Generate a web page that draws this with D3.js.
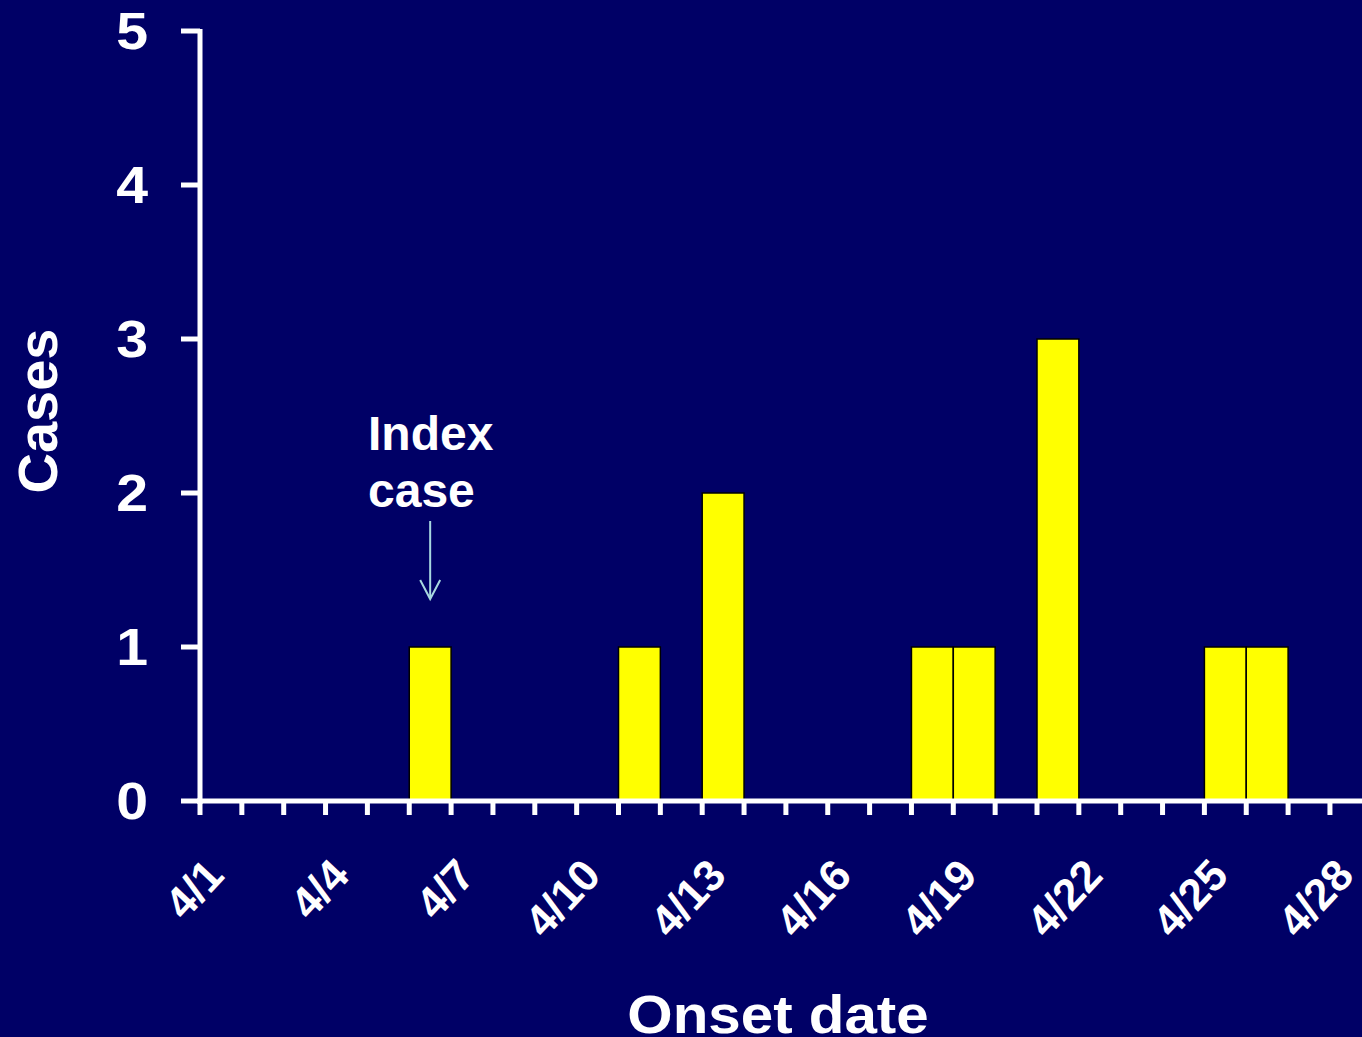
<!DOCTYPE html>
<html>
<head>
<meta charset="utf-8">
<script src="https://cdn.jsdelivr.net/npm/d3@7"></script>
<style>
  html, body { margin: 0; padding: 0; background: #000066; }
  svg { display: block; font-family: "Liberation Sans", Arial, sans-serif; font-weight: bold; }
</style>
</head>
<body>
<script>
// onset days in April, 1..28
const days = d3.range(1, 29)
const cases = [0, 0, 0, 0, 0, 1, 0, 0, 0, 0, 1, 0, 2, 0, 0, 0, 0, 1, 1, 0, 3, 0, 0, 0, 1, 1, 0, 0]
const yTicks = [0, 1, 2, 3, 4, 5]
const labelDays = [1, 4, 7, 10, 13, 16, 19, 22, 25, 28]

const width = 1362, height = 1037
const svg = d3.select('body').append('svg')
    .attr('width', width)
    .attr('height', height)

svg.append('rect').attr('width', width).attr('height', height).attr('fill', '#000066')

const x = d3.scaleBand().domain(days).range([200, 200 + 28 * 41.85]).padding(0)
const y = d3.scaleLinear().domain([0, 5]).range([801, 31])

// bars
svg.append('g')
    .selectAll('rect')
    .data(days.filter((d, i) => cases[i] > 0))
    .join('rect')
    .attr('x', d => x(d))
    .attr('y', d => y(cases[d - 1]))
    .attr('width', x.bandwidth())
    .attr('height', d => y(0) - y(cases[d - 1]))
    .attr('fill', '#ffff00')
    .attr('stroke', '#000000')
    .attr('stroke-width', 1.5)

// y axis
const yAxis = svg.append('g')
yAxis.append('line')
    .attr('x1', 200).attr('x2', 200)
    .attr('y1', y(5) - 2).attr('y2', y(0) + 3)
    .attr('stroke', 'white').attr('stroke-width', 5)
yAxis.selectAll('line.tick')
    .data(yTicks)
    .join('line')
    .attr('class', 'tick')
    .attr('x1', 181).attr('x2', 200)
    .attr('y1', d => y(d)).attr('y2', d => y(d))
    .attr('stroke', 'white').attr('stroke-width', 5)
yAxis.selectAll('text')
    .data(yTicks)
    .join('text')
    .attr('transform', d => `translate(148,${y(d) + 18}) scale(1.1,1)`)
    .attr('text-anchor', 'end')
    .attr('fill', 'white')
    .attr('font-size', 52)
    .text(d => d)

// x axis
const xAxis = svg.append('g')
xAxis.append('line')
    .attr('x1', 197).attr('x2', x.range()[1])
    .attr('y1', 801).attr('y2', 801)
    .attr('stroke', 'white').attr('stroke-width', 5)
xAxis.selectAll('line.tick')
    .data(days)
    .join('line')
    .attr('class', 'tick')
    .attr('x1', d => x(d)).attr('x2', d => x(d))
    .attr('y1', 801).attr('y2', 815)
    .attr('stroke', 'white').attr('stroke-width', 5)
xAxis.selectAll('text')
    .data(labelDays)
    .join('text')
    .attr('transform', d => `translate(${x(d) + x.bandwidth() / 2 + 5},${877}) rotate(-47)`)
    .attr('text-anchor', 'end')
    .attr('fill', 'white')
    .attr('font-size', 44)
    .text(d => '4/' + d)

// axis titles
svg.append('text')
    .attr('transform', 'translate(778,1033) scale(1.08,1)')
    .attr('text-anchor', 'middle')
    .attr('fill', 'white')
    .attr('font-size', 54)
    .text('Onset date')

svg.append('text')
    .attr('transform', 'translate(57,411) rotate(-90)')
    .attr('text-anchor', 'middle')
    .attr('fill', 'white')
    .attr('font-size', 56)
    .text('Cases')

// index case annotation
const ann = svg.append('g')
ann.append('text').attr('x', 368).attr('y', 450).attr('fill', 'white').attr('font-size', 48).text('Index')
ann.append('text').attr('x', 368).attr('y', 507).attr('fill', 'white').attr('font-size', 48).text('case')
const ax = x(6) + x.bandwidth() / 2
ann.append('line')
    .attr('x1', ax).attr('x2', ax).attr('y1', 521).attr('y2', 598)
    .attr('stroke', '#a8d8e0').attr('stroke-width', 2)
ann.append('path')
    .attr('d', `M${ax - 10},${580} L${ax},${599} L${ax + 10},${580}`)
    .attr('fill', 'none')
    .attr('stroke', '#a8d8e0').attr('stroke-width', 2)
</script>
</body>
</html>
